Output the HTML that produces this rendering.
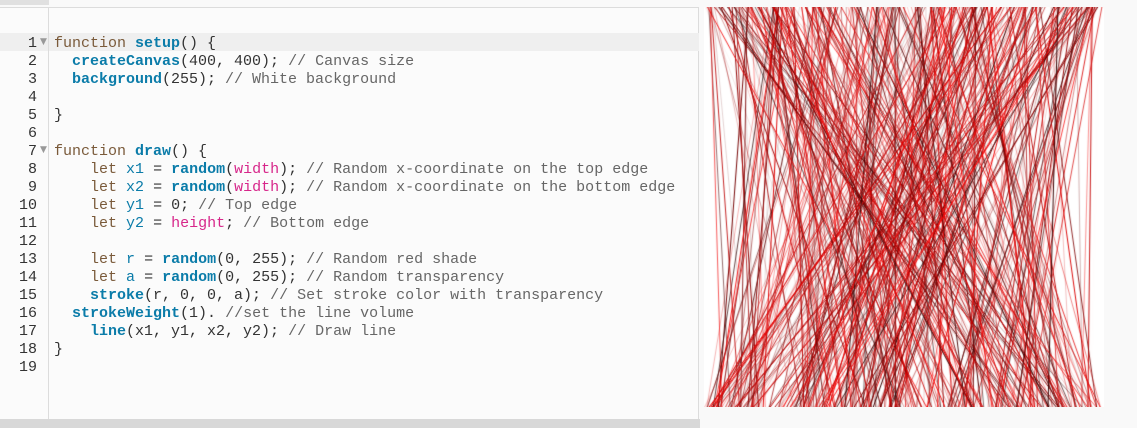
<!DOCTYPE html>
<html><head><meta charset="utf-8"><style>
html,body{margin:0;padding:0;width:1137px;height:428px;overflow:hidden;background:#f9f9f9;}
#ed{position:absolute;left:0;top:7px;width:699px;height:412px;background:#fbfbfb;border-top:1px solid #dcdcdc;border-right:1px solid #dcdcdc;box-sizing:border-box;}
#tab{position:absolute;left:0;top:0;width:49px;height:5px;background:#e0e0e0;}
#gut{position:absolute;left:0;top:8px;width:49px;height:411px;border-right:1px solid #dcdcdc;box-sizing:border-box;}
#hl{position:absolute;left:0;top:33px;width:699px;height:18px;background:#efefef;}
#sb{position:absolute;left:0;top:419px;width:700px;height:9px;background:#d8d8d8;}
.code{position:absolute;top:35px;font-family:"Liberation Mono",monospace;font-size:15px;line-height:18px;white-space:pre;color:#333;}
#nums{left:0;width:37px;text-align:right;}
#src{left:54px;}
.k{color:#7a5a3a}.f{color:#0b7ca9;font-weight:bold}.v{color:#0b7ca9}.p{color:#d7268a}.c{color:#666}
.fold{position:absolute;left:40px;font-size:9px;color:#999;font-family:"DejaVu Sans",sans-serif;}
canvas{position:absolute;left:704px;top:7px;}
</style></head><body>
<div id="ed"></div><div id="tab"></div><div id="hl"></div><div id="gut"></div><div id="sb"></div>
<div class="fold" style="top:37px">▼</div><div class="fold" style="top:145px">▼</div>
<div class="code" id="nums">1
2
3
4
5
6
7
8
9
10
11
12
13
14
15
16
17
18
19</div>
<div class="code" id="src"><span class="k">function</span> <span class="f">setup</span>() {
  <span class="f">createCanvas</span>(400, 400); <span class="c">// Canvas size</span>
  <span class="f">background</span>(255); <span class="c">// White background</span>

}

<span class="k">function</span> <span class="f">draw</span>() {
    <span class="k">let</span> <span class="v">x1</span> = <span class="f">random</span>(<span class="p">width</span>); <span class="c">// Random x-coordinate on the top edge</span>
    <span class="k">let</span> <span class="v">x2</span> = <span class="f">random</span>(<span class="p">width</span>); <span class="c">// Random x-coordinate on the bottom edge</span>
    <span class="k">let</span> <span class="v">y1</span> = 0; <span class="c">// Top edge</span>
    <span class="k">let</span> <span class="v">y2</span> = <span class="p">height</span>; <span class="c">// Bottom edge</span>

    <span class="k">let</span> <span class="v">r</span> = <span class="f">random</span>(0, 255); <span class="c">// Random red shade</span>
    <span class="k">let</span> <span class="v">a</span> = <span class="f">random</span>(0, 255); <span class="c">// Random transparency</span>
    <span class="f">stroke</span>(r, 0, 0, a); <span class="c">// Set stroke color with transparency</span>
  <span class="f">strokeWeight</span>(1). <span class="c">//set the line volume</span>
    <span class="f">line</span>(x1, y1, x2, y2); <span class="c">// Draw line</span>
}
</div>
<canvas id="cv" width="400" height="400"></canvas>
<script>
var c=document.getElementById('cv').getContext('2d');
c.fillStyle='#fff';c.fillRect(0,0,400,400);
var s=12345;function R(){s=(s*1103515245+12345)%2147483648;return s/2147483648;}
c.lineWidth=1;
for(var i=0;i<460;i++){var x1=R()*400,x2=R()*400,r=Math.floor(Math.sqrt(R())*255),a=R();
c.strokeStyle='rgba('+r+',0,0,'+a.toFixed(3)+')';c.beginPath();c.moveTo(x1,0);c.lineTo(x2,400);c.stroke();}
</script>
</body></html>
